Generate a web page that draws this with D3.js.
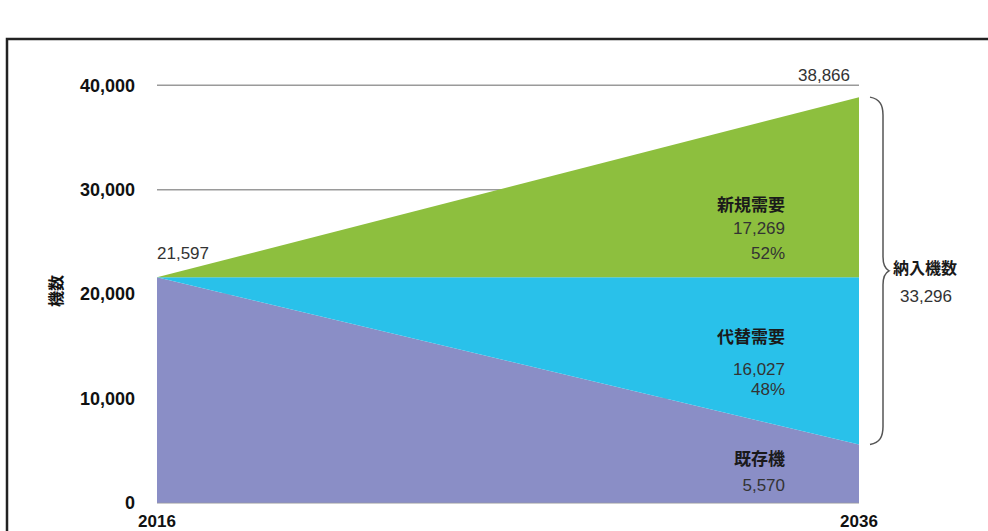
<!DOCTYPE html>
<html>
<head>
<meta charset="utf-8">
<script src="https://cdn.jsdelivr.net/npm/d3@7"></script>
<style>
  body { margin: 0; background: #fff; }
  svg text { font-family: "Liberation Sans", Arial, "Noto Sans CJK JP", sans-serif; }
  .jp { font-family: "Noto Sans CJK JP", "Liberation Sans", sans-serif; }
</style>
</head>
<body>
<div id="chart"></div>
<script>
// data
const years = [2016, 2036];
const existing = [21597, 5570];      // 既存機
const replacement = [0, 16027];      // 代替需要
const newDemand = [0, 17269];        // 新規需要
const yTicks = [0, 10000, 20000, 30000, 40000];
const seriesNames = ["既存機", "代替需要", "新規需要"];
const seriesColors = ["#8a8ec6", "#29c1ea", "#8dbf3e"];
const shares = ["", "48%", "52%"];
const delivered = 33296;             // 納入機数

const width = 988, height = 531;

let svg = d3.select("#chart").append("svg")
  .attr("width", width)
  .attr("height", height);

// outer frame (only top and left visible in the picture)
svg.append("path")
  .attr("d", "M7,540 L7,39 L995,39")
  .attr("fill", "none")
  .attr("stroke", "#222")
  .attr("stroke-width", 2.5);

let x = d3.scaleLinear().domain([2016, 2036]).range([157, 859]);
let y = d3.scaleLinear().domain([0, 40000]).range([502.7, 85.3]);

// build table for the stack
let table = years.map((yr, i) => ({
  year: yr,
  existing: existing[i],
  replacement: replacement[i],
  newDemand: newDemand[i]
}));
let keys = ["existing", "replacement", "newDemand"];
let stacked = d3.stack().keys(keys)(table);

// grid lines
svg.append("g").selectAll("line")
  .data(yTicks)
  .enter().append("line")
  .attr("x1", x(2016)).attr("x2", x(2036))
  .attr("y1", d => y(d)).attr("y2", d => y(d))
  .attr("stroke", "#9a9a9a")
  .attr("stroke-width", 1.5);

let area = d3.area()
  .x(d => x(d.data.year))
  .y0(d => y(d[0]))
  .y1(d => y(d[1]));

svg.append("g").selectAll("path")
  .data(stacked)
  .enter().append("path")
  .attr("d", area)
  .attr("fill", (d, i) => seriesColors[i]);

// y axis
let yAxis = d3.axisLeft(y).tickValues(yTicks).tickSize(0).tickPadding(22)
  .tickFormat(d3.format(","));
let gy = svg.append("g").attr("transform", "translate(" + x(2016) + ",0)").call(yAxis);
gy.select(".domain").remove();
gy.selectAll("text")
  .attr("font-family", "'Liberation Sans', Arial, sans-serif")
  .attr("font-size", 18)
  .attr("font-weight", "bold")
  .attr("fill", "#111");

// x labels (cut at the bottom edge in the original too)
svg.append("g").selectAll("text")
  .data(years)
  .enter().append("text")
  .attr("x", d => x(d))
  .attr("y", 527)
  .attr("text-anchor", "middle")
  .attr("font-size", 17)
  .attr("font-weight", "bold")
  .attr("fill", "#111")
  .text(d => d);

// y title
svg.append("text")
  .attr("class", "jp")
  .attr("transform", "translate(62,291) rotate(-90)")
  .attr("text-anchor", "middle")
  .attr("font-size", 16)
  .attr("font-weight", "bold")
  .attr("fill", "#111")
  .text("機数");

// start / end totals
svg.append("text")
  .attr("x", x(2016))
  .attr("y", y(existing[0]) - 18)
  .attr("font-size", 17)
  .attr("fill", "#333")
  .text(d3.format(",")(existing[0]));

let total2036 = existing[1] + replacement[1] + newDemand[1];
svg.append("text")
  .attr("x", x(2036) - 9)
  .attr("y", y(total2036) - 16)
  .attr("text-anchor", "end")
  .attr("font-size", 17)
  .attr("fill", "#333")
  .text(d3.format(",")(total2036));

// series annotations (right aligned inside the areas)
let labelX = 785;
let ann = [
  { name: seriesNames[2], value: newDemand[1], share: shares[2], yName: 211, yVal: 234, yShare: 259 },
  { name: seriesNames[1], value: replacement[1], share: shares[1], yName: 343, yVal: 375, yShare: 395 },
  { name: seriesNames[0], value: existing[1], share: shares[0], yName: 465, yVal: 491, yShare: 0 }
];
ann.forEach(a => {
  svg.append("text").attr("class", "jp")
    .attr("x", labelX).attr("y", a.yName)
    .attr("text-anchor", "end").attr("font-size", 17).attr("font-weight", "bold")
    .attr("fill", "#1a1a1a").text(a.name);
  svg.append("text")
    .attr("x", labelX).attr("y", a.yVal)
    .attr("text-anchor", "end").attr("font-size", 17)
    .attr("fill", "#333").text(d3.format(",")(a.value));
  if (a.share) {
    svg.append("text")
      .attr("x", labelX).attr("y", a.yShare)
      .attr("text-anchor", "end").attr("font-size", 17)
      .attr("fill", "#333").text(a.share);
  }
});

// curly brace over new + replacement demand
let bTop = y(total2036), bBot = y(existing[1]);
let bMid = (bTop + bBot) / 2;
let bx = 870, bv = 883, tip = 889;
svg.append("path")
  .attr("d", `M${bx},${bTop} C${bx + 10},${bTop + 2} ${bv},${bTop + 8} ${bv},${bTop + 18}
    L${bv},${bMid - 14} C${bv},${bMid - 6} ${bv + 2},${bMid - 2} ${tip},${bMid}
    C${bv + 2},${bMid + 2} ${bv},${bMid + 6} ${bv},${bMid + 14}
    L${bv},${bBot - 18} C${bv},${bBot - 8} ${bx + 10},${bBot - 2} ${bx},${bBot}`)
  .attr("fill", "none")
  .attr("stroke", "#555")
  .attr("stroke-width", 1.5);

svg.append("text").attr("class", "jp")
  .attr("x", 893).attr("y", bMid + 3)
  .attr("font-size", 16).attr("font-weight", "bold")
  .attr("fill", "#1a1a1a").text("納入機数");
svg.append("text")
  .attr("x", 900).attr("y", bMid + 31)
  .attr("font-size", 17)
  .attr("fill", "#333").text(d3.format(",")(delivered));
</script>
</body>
</html>
